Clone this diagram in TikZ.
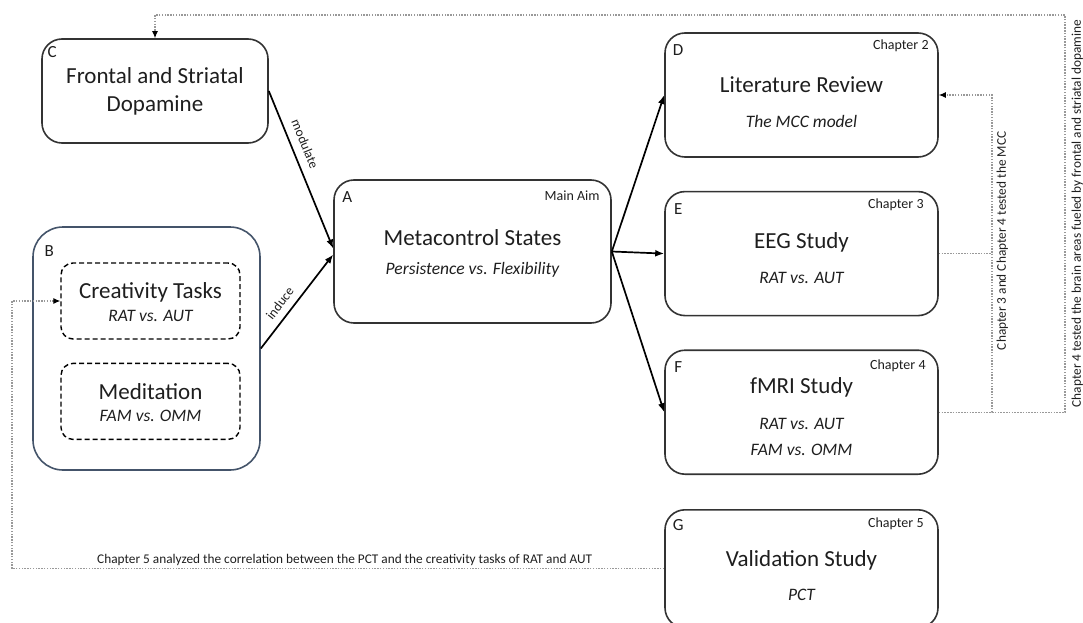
\documentclass[tikz,border=0pt]{standalone}
\usepackage{fontspec}
\setmainfont{Carlito}
\usepackage{xcolor}
\usepackage{tikz}
\usetikzlibrary{arrows.meta,positioning}

\definecolor{boxline}{HTML}{333333}
\definecolor{groupline}{HTML}{44546A}
\definecolor{linkgray}{HTML}{999999}
\definecolor{inkblack}{HTML}{1E1E1E}

\newcommand{\bigtxt}{\fontsize{23}{28}\selectfont}
\newcommand{\subtxt}{\fontsize{17.5}{26}\selectfont\itshape}
\newcommand{\tagtxt}{\fontsize{14}{16}\selectfont}
\newcommand{\lettxt}{\fontsize{17}{19}\selectfont}
\newcommand{\notetxt}{\fontsize{13.3}{15}\selectfont}

\begin{document}
\begin{tikzpicture}[
    x=1pt, y=-1pt,
    boxed/.style={rectangle, draw=boxline, line width=1.6pt, rounded corners=20pt, minimum width=273pt, minimum height=124pt, inner sep=0pt},
    groupbox/.style={rectangle, draw=groupline, line width=1.6pt, rounded corners=30pt, inner sep=0pt},
    taskbox/.style={rectangle, draw=black, dash pattern=on 5pt off 3pt, line width=1.4pt, rounded corners=12pt, minimum width=179pt, minimum height=76pt, inner sep=0pt},
    headline/.style={font=\bigtxt, text=inkblack, align=center, inner sep=0pt},
    subline/.style={font=\subtxt, text=inkblack, align=center, inner sep=0pt},
    tagline/.style={font=\tagtxt, text=inkblack, inner sep=0pt},
    letline/.style={font=\lettxt, text=inkblack, inner sep=0pt},
    noteline/.style={font=\notetxt, text=inkblack, inner sep=2pt},
    arrow/.style={line width=1.7pt, draw=black, -{Latex[length=9pt,width=7pt]}},
    dotline/.style={line width=1.1pt, draw=linkgray, dash pattern=on 1.5pt off 1.3pt},
    dotarrow/.style={dotline, -{Latex[color=black,length=7pt,width=6pt]}}
]
    \useasboundingbox (0,0) rectangle (1083,623);

    % Dopamine
    \node[boxed, minimum width=226pt, minimum height=104pt] (C) at (155,91) {};
    \node[letline] (Ctag) at ([shift={(11pt,-14pt)}]C.north west) {C};
    \node[headline] (Ctitle) at (C.center) {Frontal and Striatal\\Dopamine};

    % Tasks group
    \node[groupbox, minimum width=227pt, minimum height=243pt] (B) at (146.5,348.5) {};
    \node[letline] (Btag) at ([shift={(17pt,-25pt)}]B.north west) {B};
    \node[taskbox] (crea) at (150.5,301) {};
    \node[headline] (creatitle) at ([yshift=9pt]crea.center) {Creativity Tasks};
    \node[subline] (creasub) at ([yshift=-15pt]crea.center) {RAT vs. AUT};
    \node[taskbox, below=23pt of crea] (medi) {};
    \node[headline] (medititle) at ([yshift=10pt]medi.center) {Meditation};
    \node[subline] (medisub) at ([yshift=-14pt]medi.center) {FAM vs. OMM};

    % Main aim
    \node[boxed, minimum width=277pt, minimum height=143pt] (A) at (472.5,251.5) {};
    \node[letline] (Atag) at ([shift={(14pt,-18pt)}]A.north west) {A};
    \node[tagline, anchor=east] (Achap) at ([shift={(-12pt,-17pt)}]A.north east) {Main Aim};
    \node[headline] (Atitle) at ([yshift=13.5pt]A.center) {Metacontrol States};
    \node[subline] (Asub) at ([yshift=-18.5pt]A.center) {Persistence vs. Flexibility};

    % Chapters
    \node[boxed] (D) at (801.5,95) {};
    \node[boxed, below=33pt of D] (E) {};
    \node[boxed, below=33pt of E] (F) {};
    \node[boxed, minimum height=118pt, below=34pt of F] (G) {};

    \node[letline] (Dtag) at ([shift={(14pt,-18pt)}]D.north west) {D};
    \node[tagline, anchor=east] (Dchap) at ([shift={(-10pt,-14pt)}]D.north east) {Chapter 2};
    \node[headline] (Dtitle) at ([yshift=10pt]D.center) {Literature Review};
    \node[subline] (Dsub) at ([yshift=-26pt]D.center) {The MCC model};

    \node[letline] (Etag) at ([shift={(14pt,-18pt)}]E.north west) {E};
    \node[tagline, anchor=east] (Echap) at ([shift={(-15pt,-14pt)}]E.north east) {Chapter 3};
    \node[headline] (Etitle) at ([yshift=11.5pt]E.center) {EEG Study};
    \node[subline] (Esub) at ([yshift=-24.5pt]E.center) {RAT vs. AUT};

    \node[letline] (Ftag) at ([shift={(14pt,-18pt)}]F.north west) {F};
    \node[tagline, anchor=east] (Fchap) at ([shift={(-13pt,-16pt)}]F.north east) {Chapter 4};
    \node[headline] (Ftitle) at ([yshift=24.5pt]F.center) {fMRI Study};
    \node[subline] (Fsub) at ([yshift=-24.5pt]F.center) {RAT vs. AUT\\FAM vs. OMM};

    \node[letline] (Gtag) at ([shift={(14pt,-16pt)}]G.north west) {G};
    \node[tagline, anchor=east] (Gchap) at ([shift={(-15pt,-15pt)}]G.north east) {Chapter 5};
    \node[headline] (Gtitle) at ([yshift=8pt]G.center) {Validation Study};
    \node[subline] (Gsub) at ([yshift=-26pt]G.center) {PCT};

    % Solid links
    \draw[arrow] (C.east) -- node[noteline, sloped, above=6pt, pos=0.37] (modlabel) {modulate} ([yshift=3pt]A.west);
    \draw[arrow] (B.east) -- node[noteline, sloped, above=5pt, pos=0.4] (indlabel) {induce} ([yshift=-3pt]A.west);
    \draw[arrow] (A.east) -- (D.west);
    \draw[arrow] (A.east) -- (E.west);
    \draw[arrow] (A.east) -- (F.west);

    % Dotted links
    \coordinate (mcc) at (992,95);
    \coordinate (outer) at (1065,15);
    \coordinate (leftx) at (12,301);
    \draw[dotarrow] (F.east) -| node[noteline, pos=0.77, sloped, below=2pt] (mcclabel) {Chapter 3 and Chapter 4 tested the MCC} (mcc) -- (D.east);
    \draw[dotline] (E.east) -- (E.east -| mcc);
    \draw[dotarrow] (F.east) -| node[noteline, pos=0.75, sloped, below=4pt] (dopalabel) {Chapter 4 tested the brain areas fueled by frontal and striatal dopamine} (outer) -| (C.north);
    \draw[dotarrow] (G.west) -| node[noteline, pos=0.245, above=1pt] (pctlabel) {Chapter 5 analyzed the correlation between the PCT and the creativity tasks of RAT and AUT} (leftx) -- (crea.west);

\end{tikzpicture}
\end{document}
